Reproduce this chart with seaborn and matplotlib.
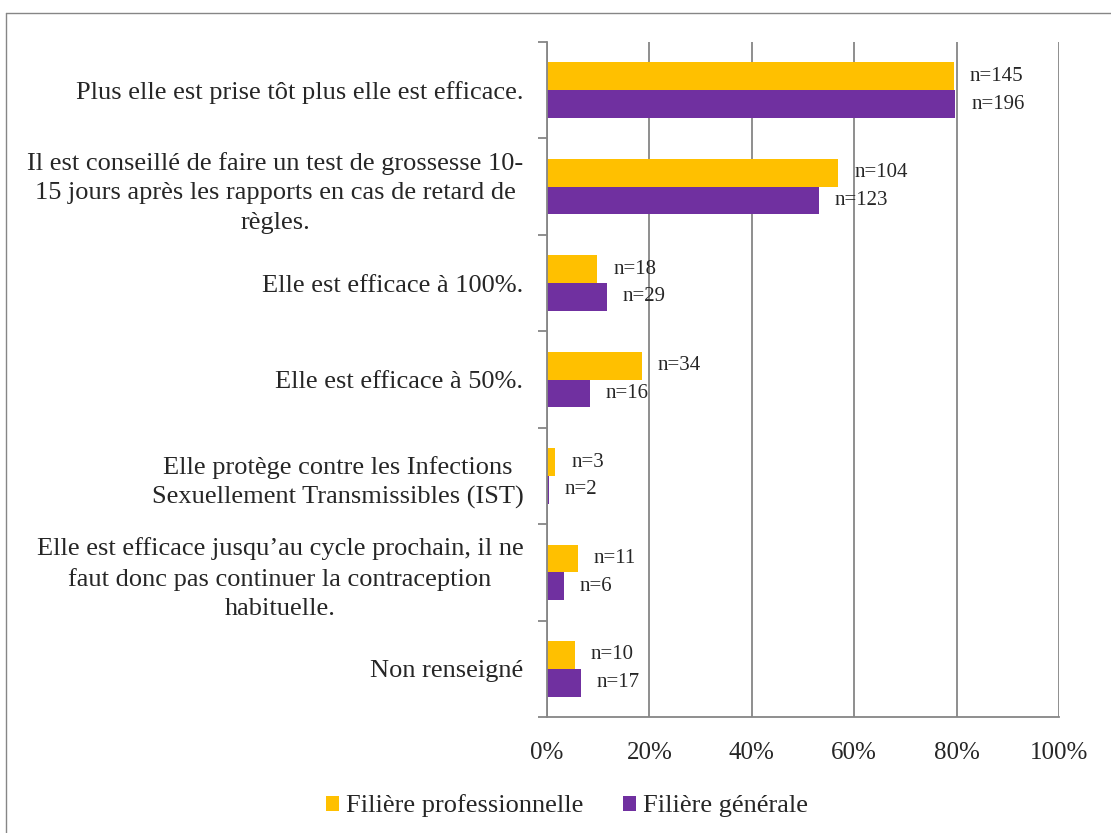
import numpy as np
import pandas as pd
import matplotlib.pyplot as plt
import seaborn as sns
from matplotlib.lines import Line2D
from matplotlib.patches import Patch

categories = [
    "Plus elle est prise tôt plus elle est efficace.",
    "Il est conseillé de faire un test de grossesse 10-\n15 jours après les rapports en cas de retard de\nrègles.",
    "Elle est efficace à 100%.",
    "Elle est efficace à 50%.",
    "Elle protège contre les Infections\nSexuellement Transmissibles (IST)",
    "Elle est efficace jusqu’au cycle prochain, il ne\nfaut donc pas continuer la contraception\nhabituelle.",
    "Non renseigné",
]
series = ["Filière professionnelle", "Filière générale"]
pro_pct = [79.4, 56.9, 9.8, 18.5, 1.6, 6.0, 5.4]
gen_pct = [79.7, 53.1, 11.7, 8.4, 0.3, 3.3, 6.6]
pro_n = [145, 104, 18, 34, 3, 11, 10]
gen_n = [196, 123, 29, 16, 2, 6, 17]
x_ticks = [0, 20, 40, 60, 80, 100]
colors = ["#FFC000", "#7030A0"]
gray = "#868686"

sns.set_theme(style="white")
plt.rcParams["font.family"] = ["Liberation Serif", "DejaVu Serif"]

df = pd.DataFrame({
    "Item": categories * 2,
    "Pct": pro_pct + gen_pct,
    "Filière": [series[0]] * len(categories) + [series[1]] * len(categories),
})

fig = plt.figure(figsize=(11.11, 8.33), dpi=100)
ax = fig.add_axes([547 / 1111, 1 - 717 / 833, 512 / 1111, 675 / 833])
sns.barplot(data=df, y="Item", x="Pct", hue="Filière", hue_order=series,
            palette=colors, orient="h", width=0.577, saturation=1,
            linewidth=0, legend=False, ax=ax)

# n= labels at the end of each bar
for cont, ns in zip(ax.containers, [pro_n, gen_n]):
    ax.bar_label(cont, labels=[f"n={n}" for n in ns], padding=11.5, fontsize=15)

ax.set_xlim(0, 100)
ax.set_ylim(len(categories) - 0.5, -0.5)
ax.set_xticks(x_ticks)
ax.set_xticklabels([f"{t}%" for t in x_ticks])
ax.set_xlabel("")
ax.set_ylabel("")
ax.xaxis.grid(True, color=gray, lw=1.3)
ax.yaxis.grid(False)
ax.set_axisbelow(True)

for side in ["top", "right"]:
    ax.spines[side].set_visible(False)
for side in ["left", "bottom"]:
    ax.spines[side].set_color(gray)
    ax.spines[side].set_linewidth(1.3)

ax.tick_params(axis="x", length=5, color=gray, width=1.3, pad=13, labelsize=18)
ax.tick_params(axis="y", which="major", length=0, pad=17, labelsize=19)
ax.set_yticks(np.arange(-0.5, len(categories), 1), minor=True)
ax.tick_params(axis="y", which="minor", length=6.5, color=gray, width=1.3, left=True)
for lbl in ax.get_yticklabels():
    lbl.set_multialignment("center")
    lbl.set_linespacing(1.43)

handles = [Patch(facecolor=c, edgecolor="none") for c in colors]
fig.legend(handles, series, loc="center", bbox_to_anchor=(567 / 1111, 1 - 806 / 833),
           ncol=2, frameon=False, fontsize=19, handlelength=0.5, handleheight=0.5,
           handletextpad=0.25, columnspacing=1.5)

# outer chart frame (left and top edges visible)
fig.add_artist(Line2D([6 / 1111, 6 / 1111], [0, 1 - 13 / 833], transform=fig.transFigure, color=gray, lw=1))
fig.add_artist(Line2D([6 / 1111, 1], [1 - 13 / 833, 1 - 13 / 833], transform=fig.transFigure, color=gray, lw=1))

fig.savefig("out.png", dpi=100)
